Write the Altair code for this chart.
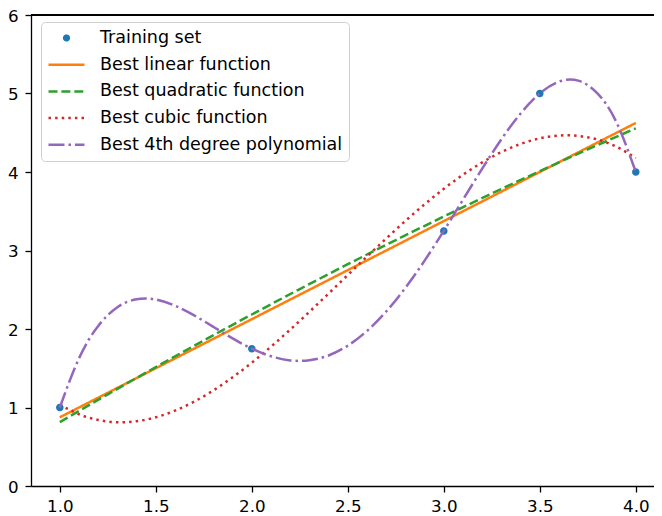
import altair as alt
import pandas as pd

# ---- data ----
series_names = ["Training set", "Best linear function", "Best quadratic function",
                "Best cubic function", "Best 4th degree polynomial"]
series_colors = ["#1f77b4", "#ff7f0e", "#2ca02c", "#d62728", "#9467bd"]

train_x = [1.0, 2.0, 3.0, 3.5, 4.0]
train_y = [1.0, 1.75, 3.25, 5.0, 4.0]

lin_x = [1.0, 4.0]
lin_y = [0.875, 4.625]

quad_x = [1.0, 1.25, 1.5, 1.75, 2.0, 2.25, 2.5, 2.75, 3.0, 3.25, 3.5, 3.75, 4.0]
quad_y = [0.814, 1.168, 1.515, 1.854, 2.185, 2.509, 2.825, 3.133, 3.433, 3.726, 4.011, 4.288, 4.557]

grid_x = [1.0, 1.1, 1.2, 1.3, 1.4, 1.5, 1.6, 1.7, 1.8, 1.9, 2.0, 2.1, 2.2, 2.3, 2.4, 2.5,
          2.6, 2.7, 2.8, 2.9, 3.0, 3.1, 3.2, 3.3, 3.4, 3.5, 3.6, 3.7, 3.8, 3.9, 4.0]
cubic_y = [1.036, 0.914, 0.841, 0.812, 0.825, 0.875, 0.960, 1.075, 1.218, 1.385, 1.571,
           1.775, 1.992, 2.219, 2.452, 2.688, 2.923, 3.153, 3.377, 3.589, 3.786, 3.965,
           4.122, 4.254, 4.357, 4.429, 4.464, 4.460, 4.414, 4.321, 4.179]
quart_y = [1.0, 1.627, 2.039, 2.278, 2.379, 2.375, 2.297, 2.173, 2.027, 1.880, 1.75,
           1.653, 1.600, 1.602, 1.663, 1.788, 1.975, 2.223, 2.524, 2.871, 3.25, 3.647,
           4.043, 4.417, 4.745, 5.0, 5.151, 5.164, 5.003, 4.630, 4.0]

x_ticks = [1.0, 1.5, 2.0, 2.5, 3.0, 3.5, 4.0]
y_ticks = [0, 1, 2, 3, 4, 5, 6]

# ---- tables ----
pts = pd.DataFrame({"x": train_x, "y": train_y, "series": series_names[0]})
frames = []
for name, xs, ys in [(series_names[1], lin_x, lin_y), (series_names[2], quad_x, quad_y),
                     (series_names[3], grid_x, cubic_y), (series_names[4], grid_x, quart_y)]:
    frames.append(pd.DataFrame({"x": xs, "y": ys, "series": name}))
lines = pd.concat(frames, ignore_index=True)

FONT = "DejaVu Sans"
dot_path = "M-0.13,0A0.13,0.13,0,1,1,0.13,0A0.13,0.13,0,1,1,-0.13,0Z"

legend = alt.Legend(
    title=None, orient="none", legendX=10, legendY=7,
    labelFont=FONT, labelFontSize=17.5, labelColor="black", labelLimit=500,
    labelOffset=14, symbolSize=1296, symbolStrokeWidth=2.5, symbolOffset=0,
    clipHeight=20, rowPadding=6.7, padding=6, cornerRadius=4,
    strokeColor="#d0d0d0", fillColor="rgba(255,255,255,0.8)",
)

xscale = alt.Scale(domain=[0.85, 4.0948], nice=False, zero=False)
yscale = alt.Scale(domain=[0, 6], nice=False)
xaxis = alt.Axis(values=x_ticks, format=".1f", title=None, grid=False, labelPadding=6,
                 labelFlush=False)
yaxis = alt.Axis(values=y_ticks, format="d", title=None, grid=False, labelPadding=7,
                 labelOffset=1.3, labelFlush=False)

color = alt.Color("series:N", scale=alt.Scale(domain=series_names, range=series_colors),
                  legend=legend)
shape = alt.Shape("series:N", scale=alt.Scale(domain=series_names,
                  range=[dot_path, "stroke", "stroke", "stroke", "stroke"]), legend=legend)
dash = alt.StrokeDash("series:N", scale=alt.Scale(domain=series_names,
                      range=[[1, 0], [1, 0], [9, 3.9], [2.5, 4.1], [16, 4, 2.5, 4]]),
                      legend=legend)

points = alt.Chart(pts).mark_point(filled=True, size=3328, opacity=1).encode(
    x=alt.X("x:Q", scale=xscale, axis=xaxis),
    y=alt.Y("y:Q", scale=yscale, axis=yaxis),
    color=color, shape=shape,
)

curves = alt.Chart(lines).mark_line(strokeWidth=2.5, interpolate="natural").encode(
    x=alt.X("x:Q", scale=xscale, axis=xaxis),
    y=alt.Y("y:Q", scale=yscale, axis=yaxis),
    color=color, strokeDash=dash,
)

top = alt.Chart(pts).mark_rule(color="black", strokeWidth=1.3).encode(y=alt.datum(6))

chart = alt.layer(points, curves, top).properties(
    width=623, height=471, autosize="none",
    padding={"left": 23, "top": 7, "right": 0, "bottom": 30},
    background="white",
).configure_view(stroke=None).configure_axis(
    domainColor="black", domainWidth=1.3, tickColor="black", tickWidth=1.3, tickSize=6,
    labelFont=FONT, labelFontSize=16.7, labelColor="black",
)

chart.save("out.html", embed_options={"renderer": "svg", "actions": False})
